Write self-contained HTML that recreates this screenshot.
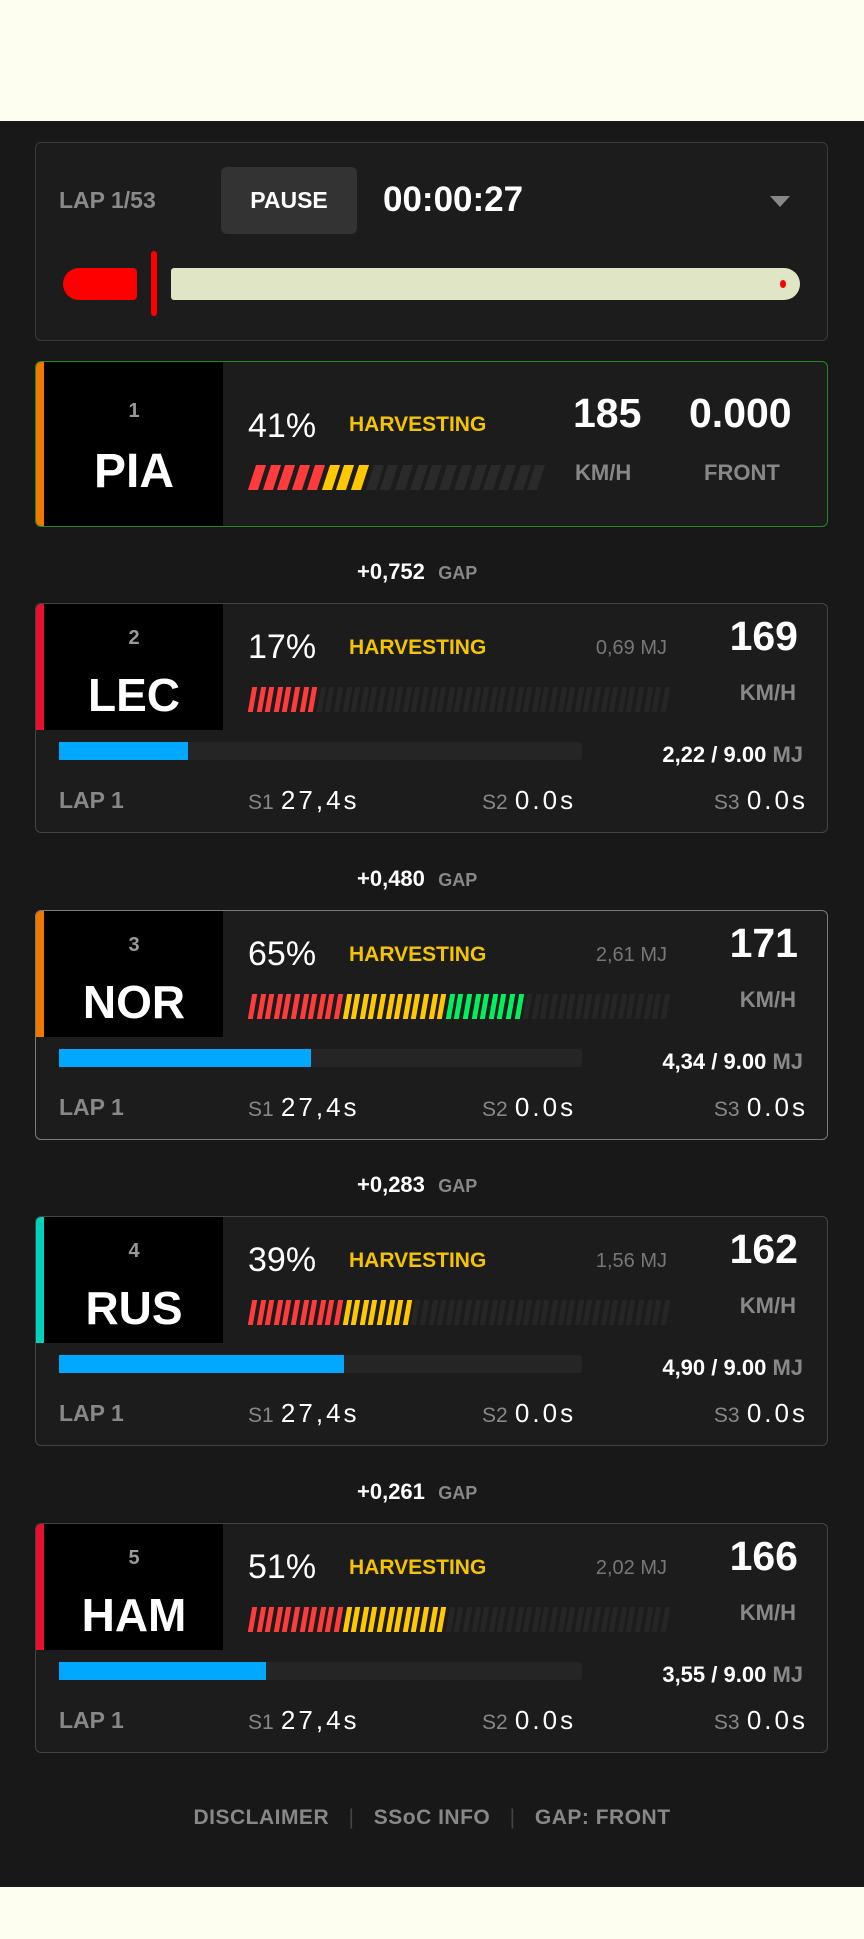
<!DOCTYPE html>
<html><head><meta charset="utf-8">
<style>
*{margin:0;padding:0;box-sizing:border-box}
body{width:864px;height:1939px;background:#fdfdf0;position:relative;overflow:hidden;font-family:"Liberation Sans",sans-serif}
#dark{position:absolute;left:0;top:121px;width:864px;height:1766px;background:#181818}
.a{position:absolute;white-space:nowrap}
.card{position:absolute;left:35px;width:793px;background:#1c1c1c;border:1.5px solid #444;border-radius:6px;overflow:hidden}
.seg{position:absolute;top:0;height:100%;transform:skewX(-18deg)}
</style></head><body>
<div id="dark"></div>
<div class="card" style="top:142px;height:199px;border-color:#3a3a3a"></div>
<div class="a" style="left:59px;top:186px;font-size:23px;line-height:28px;color:#8a8a8a;font-weight:bold">LAP 1/53</div>
<div class="a" style="left:221px;top:167px;width:136px;height:67px;background:#333;border-radius:6px;color:#fff;font-weight:bold;font-size:23px;line-height:67px;text-align:center">PAUSE</div>
<div class="a" style="left:383px;top:180px;font-size:35px;line-height:40px;color:#fff;font-weight:bold">00:00:27</div>
<div class="a" style="left:770px;top:196px;width:0;height:0;border-left:10px solid transparent;border-right:10px solid transparent;border-top:11px solid #888"></div>
<div class="a" style="left:63px;top:268px;width:74px;height:32px;background:#f00;border-radius:16px 4px 4px 16px"></div>
<div class="a" style="left:151px;top:251px;width:6px;height:65px;background:#f00;border-radius:3px"></div>
<div class="a" style="left:171px;top:268px;width:629px;height:32px;background:#e0e5c5;border-radius:3px 16px 16px 3px"></div>
<div class="a" style="left:780px;top:280px;width:6px;height:8px;background:#f00;border-radius:50%"></div>
<div id="root"></div>
<div class="a" style="left:0;width:864px;top:1805px;text-align:center;font-size:21px;line-height:26px;color:#888;font-weight:bold;letter-spacing:0.5px">DISCLAIMER <span style="color:#444;font-weight:normal;margin:0 13px">|</span> SSoC INFO <span style="color:#444;font-weight:normal;margin:0 13px">|</span> GAP: FRONT</div>
<script>
var R=document.getElementById('root'),h='';
function t(x,y,txt,st){h+='<div class="a" style="left:'+x+'px;top:'+y+'px;'+st+'">'+txt+'</div>';}
h+='<div class="card" style="top:361px;height:166px;border-color:#1f8a1f"><div class="a" style="left:0;top:0;width:8px;height:100%;background:#f07800"></div><div class="a" style="left:8px;top:0;width:179px;height:100%;background:#000"></div></div>';
t(46,398,'1','width:176px;text-align:center;font-size:20px;line-height:26px;color:#999;font-weight:bold');
t(46,445,'PIA','width:176px;text-align:center;font-size:48px;line-height:54px;color:#fff;font-weight:bold');
t(248,407,'41%','font-size:34px;line-height:38px;color:#fff');
t(349,412,'HARVESTING','font-size:21px;line-height:26px;color:#f5c400;font-weight:bold');
t(573,390,'185','font-size:41px;line-height:46px;color:#fff;font-weight:bold');
t(575,459,'KM/H','font-size:22px;line-height:28px;color:#888;font-weight:bold');
t(689,390,'0.000','font-size:41px;line-height:46px;color:#fff;font-weight:bold');
t(704,459,'FRONT','font-size:22px;line-height:28px;color:#888;font-weight:bold');
var s='<div class="a" style="left:252px;top:465px;width:290px;height:25px">';
for(var i=0;i<20;i++){var c=i<5?'#ff3b3b':(i<8?'#ffc800':'#2a2a2a');s+='<div class="seg" style="left:'+(i*14.7)+'px;width:10px;background:'+c+'"></div>';}
h+=s+'</div>';
var D=[['2','LEC','#e8102e','17%','0,69 MJ','169','2,22','#444',188,8],
['3','NOR','#f07800','65%','2,61 MJ','171','4,34','#7a7a7a',311,32],
['4','RUS','#00d2be','39%','1,56 MJ','162','4,90','#444',344,19],
['5','HAM','#e8102e','51%','2,02 MJ','166','3,55','#444',266,23]];
var G=['+0,752','+0,480','+0,283','+0,261'];
for(var k=0;k<4;k++){var d=D[k],T=603+k*306.5;
t(357,T-45,'<span style="color:#fff;font-weight:bold;font-size:22px">'+G[k]+'</span>&nbsp;&nbsp;&nbsp;<span style="color:#888;font-weight:bold;font-size:18px">GAP</span>','line-height:28px');
h+='<div class="card" style="top:'+T+'px;height:230px;border-color:'+d[7]+'"><div class="a" style="left:0;top:0;width:8px;height:126px;background:'+d[2]+'"></div><div class="a" style="left:8px;top:0;width:179px;height:126px;background:#000"></div></div>';
t(46,T+22,d[0],'width:176px;text-align:center;font-size:20px;line-height:26px;color:#999;font-weight:bold');
t(46,T+65,d[1],'width:176px;text-align:center;font-size:46px;line-height:54px;color:#fff;font-weight:bold');
t(248,T+25,d[3],'font-size:34px;line-height:38px;color:#fff');
t(349,T+32,'HARVESTING','font-size:21px;line-height:26px;color:#f5c400;font-weight:bold');
t(560,T+32,d[4],'width:107px;text-align:right;font-size:20px;line-height:26px;color:#777');
t(690,T+10,d[5],'width:108px;text-align:right;font-size:41px;line-height:46px;color:#fff;font-weight:bold');
t(690,T+76,'KM/H','width:106px;text-align:right;font-size:22px;line-height:28px;color:#888;font-weight:bold');
s='<div class="a" style="left:250px;top:'+(T+84)+'px;width:420px;height:25px">';
for(var i=0;i<49;i++){var c=i>=d[9]?'#262626':(i<11?'#ff3b3b':(i<23?'#ffc800':'#00f060'));s+='<div class="seg" style="left:'+(i*8.6)+'px;width:5px;transform:skewX(-10deg);background:'+c+'"></div>';}
h+=s+'</div>';
h+='<div class="a" style="left:59px;top:'+(T+139)+'px;width:523px;height:18px;background:#252525;border-radius:3px"><div style="width:'+(d[8]-59)+'px;height:18px;background:#00a8ff"></div></div>';
t(560,T+138,'<span style="color:#fff">'+d[6]+' / 9.00</span> <span style="color:#888">MJ</span>','width:243px;text-align:right;font-size:22px;line-height:28px;font-weight:bold');
t(59,T+183,'LAP 1','font-size:23px;line-height:28px;color:#888;font-weight:bold');
t(248,T+183,'<span style="color:#888;font-size:21px">S1</span> <span style="color:#fff;letter-spacing:3px">27,4s</span>','font-size:26px;line-height:28px');
t(482,T+183,'<span style="color:#888;font-size:21px">S2</span> <span style="color:#fff;letter-spacing:3px">0.0s</span>','font-size:26px;line-height:28px');
t(640,T+183,'<span style="color:#888;font-size:21px">S3</span> <span style="color:#fff;letter-spacing:3px;margin-right:-3px">0.0s</span>','width:165px;text-align:right;font-size:26px;line-height:28px');
}
R.innerHTML=h;
</script>
</body></html>
